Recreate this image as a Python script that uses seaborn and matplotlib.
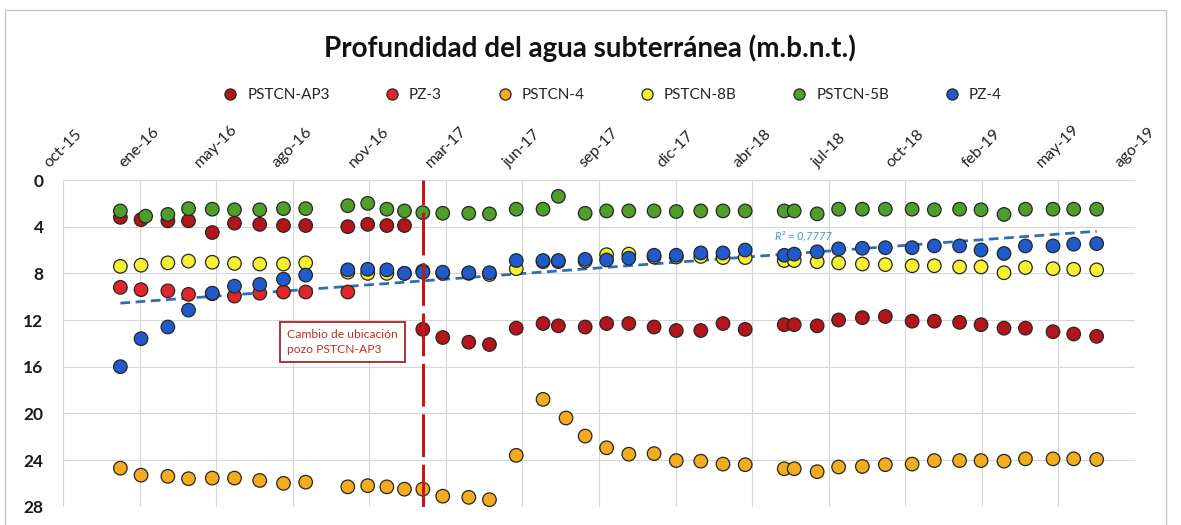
import numpy as np
import pandas as pd
import matplotlib
matplotlib.use('Agg')
import matplotlib.pyplot as plt
from matplotlib.lines import Line2D
from matplotlib.patches import Rectangle
import matplotlib.dates as mdates
import seaborn as sns

N = None
fechas = ['2016-01-04', '2016-01-31', '2016-02-06', '2016-03-06', '2016-04-02', '2016-05-03',
          '2016-06-01', '2016-07-04', '2016-08-04', '2016-09-02', '2016-10-27', '2016-11-22',
          '2016-12-17', '2017-01-09', '2017-02-02', '2017-02-28', '2017-04-03', '2017-04-30',
          '2017-06-04', '2017-07-09', '2017-07-29', '2017-08-08', '2017-09-02', '2017-09-30',
          '2017-10-29', '2017-12-01', '2017-12-30', '2018-01-31', '2018-03-01', '2018-03-30',
          '2018-05-20', '2018-06-02', '2018-07-02', '2018-07-30', '2018-08-30', '2018-09-29',
          '2018-11-03', '2018-12-02', '2019-01-04', '2019-02-01', '2019-03-03', '2019-03-31',
          '2019-05-06', '2019-06-02', '2019-07-02']

pstcn_ap3 = [3.2, 3.4, N, 3.5, 3.5, 4.5, 3.7, 3.8, 3.9, 3.9, 4.0, 3.8, 3.9, 3.9,
             12.8, 13.5, 13.9, 14.1, 12.7, 12.3, 12.5, N, 12.6, 12.3, 12.3, 12.6, 12.9, 12.9,
             12.3, 12.8, 12.4, 12.4, 12.5, 12.0, 11.8, 11.7, 12.1, 12.1, 12.2, 12.4, 12.7, 12.7,
             13.0, 13.2, 13.4]
pz_3 = [9.2, 9.4, N, 9.5, 9.8, 9.75, 9.95, 9.7, 9.6, 9.6, 9.6] + [N] * 34
pstcn_4 = [24.7, 25.3, N, 25.4, 25.6, 25.55, 25.55, 25.75, 26.0, 25.9, 26.3, 26.2, 26.3, 26.5,
           26.5, 27.1, 27.2, 27.4, 23.6, 18.8, N, 20.4, 21.95, 22.95, 23.5, 23.45, 24.05, 24.1,
           24.35, 24.4, 24.75, 24.75, 25.0, 24.6, 24.55, 24.4, 24.35, 24.05, 24.05, 24.05, 24.1,
           23.9, 23.9, 23.9, 23.95]
pstcn_8b = [7.4, 7.3, N, 7.1, 6.95, 7.05, 7.15, 7.2, 7.2, 7.1, 7.9, 8.0, 8.0, 8.0, 7.8, 8.0,
            8.0, 8.1, 7.6, 7.0, 7.0, N, 6.95, 6.4, 6.35, 6.6, 6.6, 6.55, 6.65, 6.65, 6.9, 6.9,
            7.0, 7.1, 7.2, 7.25, 7.35, 7.35, 7.45, 7.45, 7.95, 7.5, 7.6, 7.65, 7.7]
pstcn_5b = [2.65, N, 3.1, 2.95, 2.45, 2.5, 2.55, 2.55, 2.45, 2.45, 2.2, 2.0, 2.5, 2.65, 2.8,
            2.85, 2.85, 2.9, 2.5, 2.5, 1.4, N, 2.85, 2.65, 2.65, 2.65, 2.7, 2.65, 2.65, 2.65,
            2.65, 2.65, 2.9, 2.5, 2.5, 2.5, 2.5, 2.55, 2.5, 2.55, 2.95, 2.5, 2.5, 2.5, 2.5]
pz_4 = [16.0, 13.6, N, 12.6, 11.15, 9.7, 9.1, 8.95, 8.5, 8.15, 7.7, 7.65, 7.7, 8.0, 7.9, 7.9,
        7.95, 7.95, 6.9, 6.9, 6.9, N, 6.8, 6.85, 6.7, 6.45, 6.45, 6.25, 6.25, 6.0, 6.45, 6.35,
        6.15, 5.9, 5.85, 5.8, 5.8, 5.65, 5.65, 6.0, 6.3, 5.65, 5.65, 5.5, 5.45]

pozos = ['PSTCN-AP3', 'PZ-3', 'PSTCN-4', 'PSTCN-8B', 'PSTCN-5B', 'PZ-4']
series = [pstcn_ap3, pz_3, pstcn_4, pstcn_8b, pstcn_5b, pz_4]
colores = ['#B3151B', '#E0262B', '#F2AC1E', '#F6F030', '#4E9F2A', '#1F5BCB']

eje_inicio = '2015-10-21'
eje_paso_dias = 100
etiquetas_x = ['oct-15', 'ene-16', 'may-16', 'ago-16', 'nov-16', 'mar-17', 'jun-17', 'sep-17',
               'dic-17', 'abr-18', 'jul-18', 'oct-18', 'feb-19', 'may-19', 'ago-19']
ticks_y = [0, 4, 8, 12, 16, 20, 24, 28]
fecha_cambio = '2017-02-02'
titulo = 'Profundidad del agua subterránea (m.b.n.t.)'
nota = 'Cambio de ubicación\npozo PSTCN-AP3'
r2_texto = 'R² = 0,7777'

# ---- long-form data ----
rows = []
for pozo, vals in zip(pozos, series):
    for f, v in zip(fechas, vals):
        if v is not None:
            rows.append((pd.Timestamp(f), v, pozo))
df = pd.DataFrame(rows, columns=['fecha', 'prof', 'pozo'])
palette = dict(zip(pozos, colores))

sns.set_theme(style='white')
plt.rcParams['font.family'] = ['Lato', 'DejaVu Sans']

fig = plt.figure(figsize=(11.81, 5.25), dpi=100)
ax = fig.add_axes([0.0533, 0.0349, 0.9077, 0.6222])

sns.scatterplot(data=df, x='fecha', y='prof', hue='pozo', hue_order=pozos, palette=palette,
                s=95, edgecolor='#262626', linewidth=0.9, legend=False, ax=ax, zorder=3)

# linear trend on PZ-4
d4 = df[df.pozo == 'PZ-4']
xn = mdates.date2num(d4.fecha)
m, b = np.polyfit(xn, d4.prof.values, 1)
xs = np.array([xn.min(), xn.max()])
ax.plot(mdates.num2date(xs), m * xs + b, color='#2F6EB5', lw=2.0, ls=(0, (3.5, 2)), zorder=2.5)

ax.axvline(pd.Timestamp(fecha_cambio), color='#C4161C', lw=2.2, ls=(0, (14, 2.5)), zorder=4)

start = pd.Timestamp(eje_inicio)
tick_x = [start + pd.Timedelta(days=eje_paso_dias * i) for i in range(len(etiquetas_x))]
ax.set_xlim(tick_x[0], tick_x[-1])
ax.set_ylim(28, 0)
ax.xaxis.tick_top()
ax.set_xticks(tick_x)
ax.set_xticklabels(etiquetas_x, rotation=45, ha='center', fontsize=11.5, color='#222222')
ax.set_yticks(ticks_y)
ax.set_yticklabels([str(t) for t in ticks_y], fontsize=12.5, color='#1a1a1a', fontweight='bold')
ax.tick_params(axis='x', length=0, pad=7)
ax.tick_params(axis='y', length=0, pad=14)
ax.set_xlabel('')
ax.set_ylabel('')
ax.grid(True, color='#d6d6d6', lw=0.8)
for s in ax.spines.values():
    s.set_visible(False)

ax.text(0.261, 0.504, nota, transform=ax.transAxes, ha='center', va='center', fontsize=8.7,
        color='#C0302B', linespacing=1.35, multialignment='left',
        bbox=dict(boxstyle='square,pad=0.6', fc='white', ec='#A8242A', lw=1.3), zorder=5)
ax.text(0.691, 0.829, r2_texto, transform=ax.transAxes, ha='center', va='center',
        fontsize=8, color='#3A9AD9', style='italic', zorder=5)

handles = [Line2D([], [], ls='none', marker='o', markersize=8, markerfacecolor=c,
                  markeredgecolor='#262626', markeredgewidth=0.9) for c in colores]
fig.legend(handles, pozos, loc='center', bbox_to_anchor=(0.515, 0.819), ncol=6,
           frameon=False, fontsize=11, handletextpad=0.1, columnspacing=3.1)

fig.text(0.4996, 0.9086, titulo, ha='center', va='center', fontsize=20, fontweight='bold',
         color='#111111')

fig.patches.append(Rectangle((5 / 1181, -0.05), (1166 - 5) / 1181, 0.981 + 0.05,
                             transform=fig.transFigure, fill=False, ec='#c4c4c4', lw=1.0))

fig.savefig('out.png', dpi=100)
